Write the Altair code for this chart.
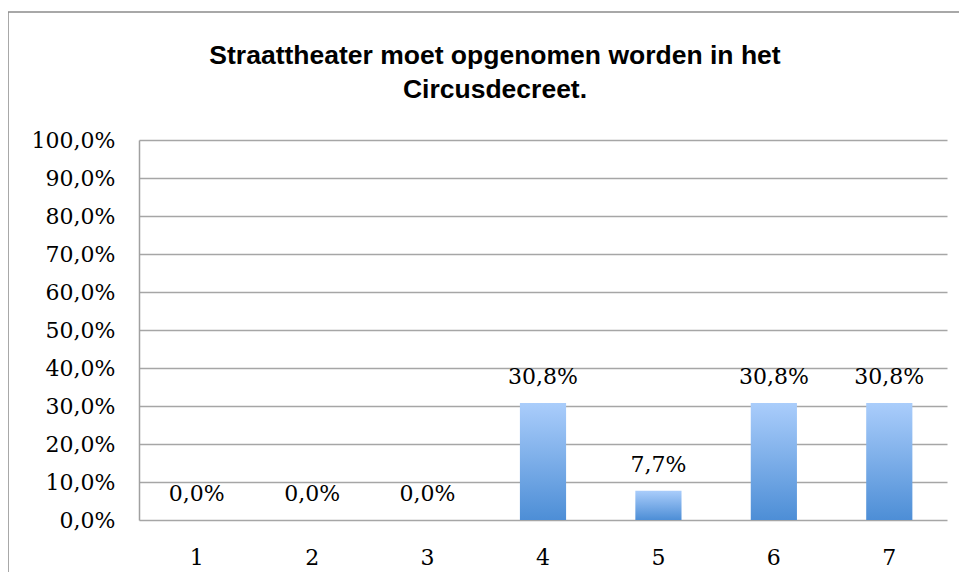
import altair as alt
import pandas as pd

categories = ["1", "2", "3", "4", "5", "6", "7"]
values = [0.0, 0.0, 0.0, 0.308, 0.077, 0.308, 0.308]
labels = ["0,0%", "0,0%", "0,0%", "30,8%", "7,7%", "30,8%", "30,8%"]
y_ticks = [0.0, 0.1, 0.2, 0.3, 0.4, 0.5, 0.6, 0.7, 0.8, 0.9, 1.0]
title_lines = ["Straattheater moet opgenomen worden in het", "Circusdecreet."]

df = pd.DataFrame({"cat": categories, "val": values, "lab": labels})

gradient = {
    "x1": 0, "y1": 0, "x2": 0, "y2": 1, "gradient": "linear",
    "stops": [{"offset": 0, "color": "#AACDFB"}, {"offset": 1, "color": "#4D8ED6"}],
}

x = alt.X("cat:N", sort=categories, title=None,
          scale=alt.Scale(paddingInner=0.6, paddingOuter=0.3),
          axis=alt.Axis(labelAngle=0, ticks=False, domain=False, grid=False, labelPadding=27,
                        labelFont="DejaVu Serif", labelFontSize=22, labelColor="#000000"))
y = alt.Y("val:Q", title=None, scale=alt.Scale(domain=[0, 1]),
          axis=alt.Axis(values=y_ticks, tickCount=11, ticks=False, domainColor="#A0A0A0",
                        domainWidth=1.5, grid=True, gridColor="#A6A6A6", gridWidth=1.5,
                        labelPadding=24, labelOverlap=False,
                        labelExpr="replace(format(datum.value, '.1%'), '.', ',')",
                        labelFont="DejaVu Serif", labelFontSize=22, labelColor="#000000"))

bars = alt.Chart(df).mark_bar(color=gradient).encode(x=x, y=y)
text = alt.Chart(df).mark_text(font="DejaVu Serif", fontSize=22, color="#000000",
                               baseline="alphabetic", dy=-19).encode(
    x=x, y=y, text="lab:N")

frame = alt.Chart(alt.Data(values=[{"a": 1}])).mark_rect(
    fill=None, stroke="#8C8C8C", strokeWidth=1.5).encode(
    x=alt.value(-131), x2=alt.value(843), y=alt.value(-128), y2=alt.value(600))

chart = alt.layer(frame, bars, text).properties(
    width=808, height=380,
    autosize=alt.AutoSizeParams(type="none"),
    padding={"left": 131, "top": 132, "right": 12, "bottom": 52},
    title=alt.TitleParams(title_lines, font="Liberation Sans", fontSize=26.5, fontWeight="bold",
                          color="#000000", anchor="middle", frame="group", lineHeight=34,
                          baseline="top", offset=0, dy=92, dx=-48),
).configure_view(stroke=None)

chart.save("out.html", embed_options={"renderer": "svg", "actions": False})
